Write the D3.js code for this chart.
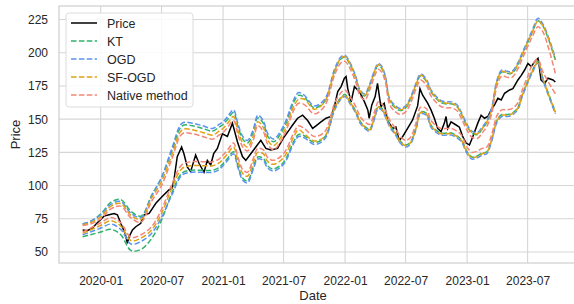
<!DOCTYPE html>
<html>
<head>
<meta charset="utf-8">
<script src="https://cdn.jsdelivr.net/npm/d3@7"></script>
<style>
  body { margin: 0; background: #fff; }
  svg { display: block; font-family: "Liberation Sans", Arial, sans-serif; }
</style>
</head>
<body>
<div id="chart"></div>
<script>
// price series
const priceDates = ["2019-11-08","2019-11-22","2019-12-07","2019-12-22","2020-01-11","2020-01-26","2020-02-10","2020-02-20","2020-03-01","2020-03-14","2020-03-21","2020-03-26","2020-04-05","2020-04-15","2020-04-30","2020-05-10","2020-05-25","2020-06-14","2020-07-03","2020-07-23","2020-08-02","2020-08-07","2020-08-17","2020-08-30","2020-09-06","2020-09-16","2020-09-26","2020-10-11","2020-10-21","2020-11-05","2020-11-15","2020-11-25","2020-12-04","2020-12-15","2020-12-30","2021-01-14","2021-01-29","2021-02-13","2021-02-28","2021-03-10","2021-03-25","2021-04-09","2021-04-24","2021-05-09","2021-05-24","2021-06-13","2021-07-03","2021-07-18","2021-07-28","2021-08-12","2021-08-27","2021-09-11","2021-09-26","2021-10-06","2021-10-21","2021-11-05","2021-11-20","2021-11-30","2021-12-10","2021-12-20","2021-12-30","2022-01-04","2022-01-09","2022-01-19","2022-01-29","2022-02-13","2022-02-28","2022-03-10","2022-03-14","2022-03-22","2022-04-01","2022-04-08","2022-04-18","2022-04-28","2022-05-08","2022-05-23","2022-06-02","2022-06-12","2022-06-22","2022-07-07","2022-07-22","2022-08-06","2022-08-13","2022-08-21","2022-09-05","2022-09-15","2022-09-25","2022-10-05","2022-10-15","2022-10-25","2022-10-30","2022-11-04","2022-11-14","2022-11-29","2022-12-09","2022-12-19","2022-12-29","2023-01-08","2023-01-18","2023-02-02","2023-02-12","2023-02-22","2023-03-04","2023-03-14","2023-03-24","2023-04-03","2023-04-13","2023-04-23","2023-05-08","2023-05-18","2023-06-02","2023-06-12","2023-06-22","2023-07-02","2023-07-12","2023-07-22","2023-08-01","2023-08-05","2023-08-10","2023-08-21","2023-08-31","2023-09-15","2023-09-22"];
const priceValues = [66.6,66,68,72,77,78,79,78,71.6,64,56.5,61.5,66.6,69,71.6,78,79,86.7,91.7,96.7,98,104,121.8,129,124,114,110.5,123,116.8,110,119,115.5,124,128,139,137,147,133,121.8,119,124,129,134,128,126.8,128,136.8,141.9,145.6,150.7,153,149,143,145,148,150.7,152,159.4,170.7,174.5,180.8,182,173,163,174.5,170.7,163,157,150.7,160.7,167,177,159.4,162,149,143,144,134,136.8,143,149.4,160,173,168,162,157,150.7,143,140.6,147,152,143,148,145.6,144,136.8,132,130.6,136.8,147,153,150.7,152,157,160.7,165.7,164.4,169.5,172,173,179.5,183,187,192,189.6,193.3,195.8,189.6,179.5,177,180.8,179.5,178];

// interval bounds for each method
const bandDates = ["2019-11-08","2019-12-01","2020-01-01","2020-02-01","2020-03-01","2020-04-01","2020-05-01","2020-06-01","2020-07-01","2020-08-01","2020-09-01","2020-10-01","2020-11-01","2020-12-01","2020-12-20","2021-01-01","2021-01-15","2021-02-01","2021-02-15","2021-03-01","2021-03-15","2021-04-01","2021-04-15","2021-05-01","2021-05-15","2021-06-01","2021-07-01","2021-08-01","2021-08-15","2021-09-01","2021-10-01","2021-11-01","2021-12-01","2021-12-20","2022-01-01","2022-01-15","2022-02-01","2022-02-15","2022-03-01","2022-03-15","2022-04-01","2022-04-10","2022-04-20","2022-05-01","2022-05-15","2022-06-01","2022-06-15","2022-07-01","2022-07-15","2022-08-01","2022-08-15","2022-09-01","2022-09-15","2022-10-01","2022-10-15","2022-11-01","2022-11-15","2022-12-01","2022-12-15","2023-01-01","2023-01-15","2023-02-01","2023-02-15","2023-03-01","2023-03-15","2023-04-01","2023-04-15","2023-05-01","2023-05-15","2023-06-01","2023-06-15","2023-07-01","2023-07-15","2023-08-01","2023-08-15","2023-09-01","2023-09-22"];

const ktUpper = [71,73,78.5,87.5,89.5,80.5,77,92.5,106,126,145,145,143,141,144,146,150,155,144,135,132,140,151,147,137,133,143,163,168,166.5,158.5,163.5,186.5,195.5,196.5,191.5,181.5,170.5,167.5,174.5,186.5,190.5,188.5,181.5,163.5,158.5,156.5,158.5,164.5,175.5,182.5,178.5,170.5,165.5,162.5,161.5,161.5,159.5,153.5,144.5,139.5,138.5,142.5,147.5,156.5,178.5,185.5,184.5,184.5,190.5,198.5,207.5,215.5,224,220.5,210.5,194.5];
const ktLower = [61.5,63,65,67,63,51,52,60,74,94.5,109.5,111.5,111.5,111.5,113.5,116.5,120.5,125.5,114.5,105.5,103.5,113.5,121.5,120.5,114.5,112.5,117.5,133.5,138.5,137.5,132.5,136.5,158.5,166.5,168.5,163.5,156.5,148.5,144.5,142.5,153.5,159.5,158.5,153.5,145.5,139.5,133.5,130.5,132.5,143.5,155.5,154.5,145.5,141.5,139.5,139.5,139.5,137.5,134.5,125.5,121.5,122.5,124.5,125.5,134.5,149.5,153.5,153.5,154.5,158.5,168.5,178.5,186.5,193.5,181.5,169.5,155.5];

const ogdUpper = [71,73,78,86,88,79,76,92,106,128,147,147,145,143,146,148,152,157,146,137,134,142,153,149,139,135,145,165,170,168,160,165,188,197,198,193,183,172,169,176,188,192,190,183,165,160,158,160,166,177,184,180,172,167,164,163,163,161,155,146,141,140,144,149,158,180,187,186,186,192,200,209,217,226,222,212,196];
const ogdLower = [63,65,68,71,67,56,58,64,76,93,108,110,110,110,112,115,119,124,113,104,102,112,120,119,113,111,116,132,137,136,131,135,157,165,167,162,155,147,143,141,152,158,157,152,144,138,132,129,131,142,154,153,144,140,138,138,138,136,133,124,120,121,123,124,133,148,152,152,153,157,167,177,185,192,180,168,154];

const sfUpper = [70.5,72,76.5,84.5,86.5,77.5,74.5,90.5,103,123,142,142,140,138,141,143,147,152,141,132,129,137,148,144,134,130,140,160,165,165,157.5,163,186.5,196,197,192,182,171,168,175,187,191,189,182,164,159,157,159,165,176,183,179,171,166,163,162,162,160,154,145,140,139,143,148,157,179,186,185,185,191,199,208,215.5,224,220.5,211,195];
const sfLower = [64,66.5,70,73.5,69.5,58.5,60.5,66.5,79,98,113,115,115,115,117,120,124,129,118,109,107,117,125,124,118,116,121,137,142,139,133.5,137,158.5,166,168,163,156,148,144,142,153,159,158,153,145,139,133,130,132,143,155,154,145,141,139,139,139,137,134,125,121,122,124,125,134,149,153,153,154,158,168,178,186,193,181,169,155];

const nativeUpper = [70,71,75,82.5,84.5,75.5,72.5,88,100,120,139,139,137,135,138,140,144,149,138,129,126,134,145,141,131,127,137,157,162,161,154,160,183.5,192.5,193.5,188.5,178.5,167.5,164.5,171.5,183.5,187.5,185.5,178.5,160.5,155.5,153.5,155.5,161.5,172.5,179.5,175.5,167.5,162.5,159.5,158.5,158.5,156.5,150.5,141.5,136.5,135.5,139.5,144.5,153.5,175.5,182.5,181.5,181.5,187.5,195.5,204.5,212,219.5,216,204,184.5];
const nativeLower = [65,68,72,76,72,61,63,69,82,101,116,118,118,118,120,123,127,132,121,112,110,120,128,127,121,119,124,140,145,143,137,140.5,162,170,172,167,160,152,148,146,157,163,162,157,149,143,137,134,136,147,159,158,149,145,143,143,143,141,138,129,125,126,128,129,138,153,157,157,158,162,172,182,191,195,186,178,169];

const yTicks = [50, 75, 100, 125, 150, 175, 200, 225];
const xTicks = ["2020-01-01","2020-07-01","2021-01-01","2021-07-01","2022-01-01","2022-07-01","2023-01-01","2023-07-01"];

const methods = [
  { name: "KT", upper: ktUpper, lower: ktLower, color: "#2fb36b" },
  { name: "OGD", upper: ogdUpper, lower: ogdLower, color: "#5b93f0" },
  { name: "SF-OGD", upper: sfUpper, lower: sfLower, color: "#e0a213" },
  { name: "Native method", upper: nativeUpper, lower: nativeLower, color: "#f58577" }
];

const W = 574, H = 304;
const L = 59, T = 6, B = 263, R = 579;
const parse = d3.timeParse("%Y-%m-%d");

const svg = d3.select("#chart").append("svg")
  .attr("width", W).attr("height", H);

const pDates = priceDates.map(parse);
const bDates = bandDates.map(parse);
const ext = d3.extent(pDates);
const pad = (ext[1] - ext[0]) * 0.05;
const x = d3.scaleTime()
  .domain([new Date(+ext[0] - pad), new Date(+ext[1] + pad)])
  .range([L, R]);
const y = d3.scaleLinear().domain([41.7, 235.2]).range([B, T]);

// grid
const grid = svg.append("g");
grid.selectAll(".gx").data(xTicks.map(parse)).join("line")
  .attr("x1", d => x(d)).attr("x2", d => x(d))
  .attr("y1", T).attr("y2", B)
  .attr("stroke", "#d6d6d6").attr("stroke-width", 1.1);
grid.selectAll(".gy").data(yTicks).join("line")
  .attr("x1", L).attr("x2", R)
  .attr("y1", d => y(d)).attr("y2", d => y(d))
  .attr("stroke", "#d6d6d6").attr("stroke-width", 1.1);

// frame
svg.append("rect")
  .attr("x", L).attr("y", T).attr("width", R - L).attr("height", B - T)
  .attr("fill", "none").attr("stroke", "#d0d0d0").attr("stroke-width", 1.25);

// axes via d3
const xAxis = d3.axisBottom(x).tickValues(xTicks.map(parse))
  .tickFormat(d3.timeFormat("%Y-%m")).tickSize(0).tickPadding(13);
svg.append("g").attr("transform", `translate(0,${B})`).call(xAxis)
  .call(g => g.select(".domain").remove())
  .selectAll("text").attr("font-size", 12).attr("fill", "#262626")
  .style("font-family", "Liberation Sans, Arial, sans-serif");

const yAxis = d3.axisLeft(y).tickValues(yTicks).tickSize(0).tickPadding(11);
svg.append("g").attr("transform", `translate(${L},0)`).call(yAxis)
  .call(g => g.select(".domain").remove())
  .selectAll("text").attr("font-size", 12).attr("fill", "#262626")
  .style("font-family", "Liberation Sans, Arial, sans-serif");

svg.append("text").attr("x", (L + 573) / 2 - 3).attr("y", 300)
  .attr("text-anchor", "middle").attr("font-size", 13).attr("fill", "#262626")
  .text("Date");
svg.append("text").attr("transform", `translate(20,${(T + B) / 2}) rotate(-90)`)
  .attr("text-anchor", "middle").attr("font-size", 13).attr("fill", "#262626")
  .text("Price");

// clip
svg.append("clipPath").attr("id", "clip").append("rect")
  .attr("x", L).attr("y", T).attr("width", R - L).attr("height", B - T);
const plot = svg.append("g").attr("clip-path", "url(#clip)");

const priceLine = d3.line().x((d, i) => x(pDates[i])).y(d => y(d));
plot.append("path").datum(priceValues)
  .attr("d", priceLine).attr("fill", "none")
  .attr("stroke", "#000").attr("stroke-width", 1.5);

const bandLine = d3.line().x((d, i) => x(bDates[i])).y(d => y(d))
  .curve(d3.curveCatmullRom.alpha(0.5));
methods.forEach(m => {
  [m.upper, m.lower].forEach(arr => {
    plot.append("path").datum(arr)
      .attr("d", bandLine).attr("fill", "none")
      .attr("stroke", m.color).attr("stroke-width", 1.5)
      .attr("stroke-dasharray", "5.5,2.4");
  });
});

// legend
const lg = svg.append("g").attr("transform", "translate(66,13)");
lg.append("rect").attr("width", 127).attr("height", 94).attr("rx", 3)
  .attr("fill", "rgba(255,255,255,0.85)").attr("stroke", "#dcdcdc");
const items = [{ name: "Price", color: "#000", dash: null }]
  .concat(methods.map(m => ({ name: m.name, color: m.color, dash: "5.5,2.4" })));
items.forEach((it, i) => {
  const yy = 10 + i * 18;
  lg.append("line").attr("x1", 5).attr("x2", 31).attr("y1", yy).attr("y2", yy)
    .attr("stroke", it.color).attr("stroke-width", 1.5)
    .attr("stroke-dasharray", it.dash);
  lg.append("text").attr("x", 41).attr("y", yy + 4.5)
    .attr("font-size", 12.5).attr("fill", "#262626").text(it.name);
});
</script>
</body>
</html>
